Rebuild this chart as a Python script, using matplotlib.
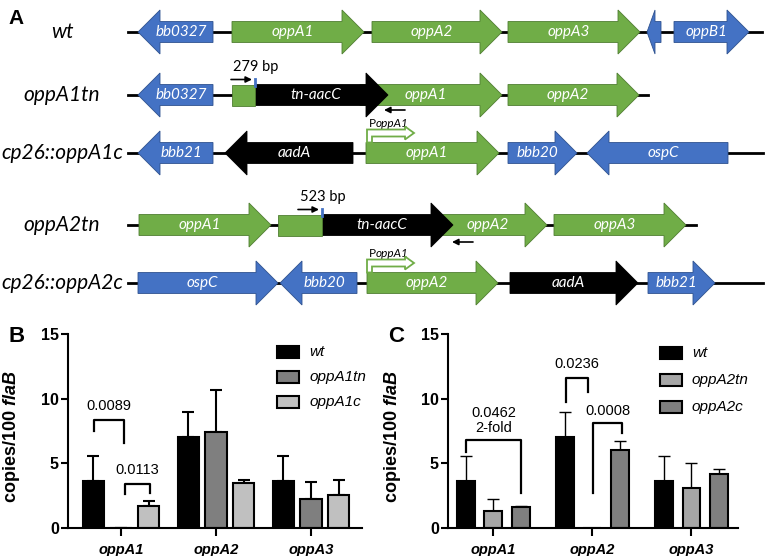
import matplotlib.pyplot as plt
from matplotlib.patches import Polygon, Rectangle

plt.rcParams['font.family'] = 'Liberation Sans'
plt.rcParams['mathtext.fontset'] = 'custom'
plt.rcParams['mathtext.rm'] = 'Liberation Sans'
plt.rcParams['mathtext.bf'] = 'Liberation Sans:bold'
plt.rcParams['mathtext.bfit'] = 'Liberation Sans:italic:bold'

BLUE = '#4472c4'
GREEN = '#70ad47'
fill = {'b': BLUE, 'g': GREEN, 'k': 'black'}
edge = {'b': '#2f528f', 'g': '#507e32', 'k': 'black'}

# ---- panel A: gene maps ----
strains = ['wt', 'oppA1tn', 'cp26::oppA1c', 'oppA2tn', 'cp26::oppA2c']
row_y = [32, 95, 153, 225, 283]
line_end = [762, 648, 763, 696, 763]
# (gene, tail x, tip x, colour)
maps = [
    [('bb0327', 213, 138, 'b'), ('oppA1', 232, 364, 'g'), ('oppA2', 372, 502, 'g'),
     ('oppA3', 508, 640, 'g'), ('', 661, 647, 'b'), ('oppB1', 674, 749, 'b')],
    [('bb0327', 213, 138, 'b'), ('oppA1', 360, 502, 'g'), ('tn-aacC', 255, 388, 'k'),
     ('oppA2', 508, 639, 'g')],
    [('bbb21', 213, 138, 'b'), ('aadA', 353, 225, 'k'), ('oppA1', 366, 499, 'g'),
     ('bbb20', 508, 577, 'b'), ('ospC', 728, 587, 'b')],
    [('oppA1', 139, 271, 'g'), ('oppA2', 440, 547, 'g'), ('tn-aacC', 322, 453, 'k'),
     ('oppA3', 554, 686, 'g')],
    [('ospC', 138, 278, 'b'), ('bbb20', 357, 280, 'b'), ('oppA2', 367, 498, 'g'),
     ('aadA', 510, 638, 'k'), ('bbb21', 648, 715, 'b')],
]
# truncated gene remnants left of the transposon (row, x0, x1)
stubs = [(1, 232, 255), (3, 278, 322)]
inserts = [(1, '279 bp', 255), (3, '523 bp', 322)]
rev_primers = [(1, 405, 110), (3, 473, 242)]
promoters = [2, 4]

# ---- panels B, C: qPCR ----
targets = ['oppA1', 'oppA2', 'oppA3']
b_names = ['wt', 'oppA1tn', 'oppA1c']
b_mean = [[3.65, 7.0, 3.6], [0.0, 7.4, 2.25], [1.7, 3.5, 2.55]]
b_top = [[5.6, 9.0, 5.6], [0.0, 10.7, 3.55], [2.1, 3.7, 3.75]]
b_colors = ['black', '#7f7f7f', '#c0c0c0']
b_pvals = [(-0.285, 0.03, 7.47, 8.37, 6.57, ['0.0089'], 9.46),
           (0.04, 0.30, 2.64, 3.41, 2.69, ['0.0113'], 4.5)]

c_names = ['wt', 'oppA2tn', 'oppA2c']
c_mean = [[3.65, 7.0, 3.6], [1.3, 0.0, 3.1], [1.65, 6.0, 4.2]]
c_top = [[5.6, 9.0, 5.6], [2.25, 0.0, 5.05], [1.72, 6.7, 4.55]]
c_colors = ['black', '#a6a6a6', '#7f7f7f']
c_pvals = [(-0.276, 0.28, 5.9, 6.77, 2.67, ['0.0462', '2-fold'], 8.9),
           (0.733, 0.96, 9.75, 11.63, 10.5, ['0.0236'], 12.7),
           (1.007, 1.30, 2.67, 8.13, 7.36, ['0.0008'], 9.08)]

fig = plt.figure(figsize=(7.68, 5.56), dpi=100)


def bar_panel(rect, names, mean, top, colors, pvals, width, step, lw):
    ax = fig.add_axes(rect)
    x = list(range(len(targets)))
    for k in range(len(names)):
        xs = [i + (k - 1) * step for i in x]
        err = [[0] * len(x), [t - m for t, m in zip(top[k], mean[k])]]
        ax.bar(xs, mean[k], width, color=colors[k], edgecolor='black', linewidth=1.5, zorder=2)
        ax.errorbar(xs, mean[k], yerr=err, fmt='none', ecolor='black', elinewidth=lw,
                    capsize=4.3, capthick=lw, zorder=1)
    for x0, x1, y0, yt, y1, labels, ty in pvals:
        ax.plot([x0, x0, x1, x1], [y0, yt, yt, y1], color='black', lw=1.6, zorder=3)
        for j, s in enumerate(labels):
            ax.text((x0 + x1) / 2, ty - j * 1.2, s, ha='center', va='center', fontsize=10.5)
    ax.set_ylim(0, 15)
    ax.set_yticks([0, 5, 10, 15])
    ax.set_xticks(x)
    ax.set_xticklabels(targets, fontweight='bold', style='italic', fontsize=10.5)
    for t in ax.get_yticklabels():
        t.set_fontweight('bold')
        t.set_fontsize(11.5)
    ax.tick_params(axis='y', length=5, width=1.5, pad=1.5)
    ax.tick_params(axis='x', length=6, width=1.5, pad=5)
    for s in ['top', 'right']:
        ax.spines[s].set_visible(False)
    for s in ['left', 'bottom']:
        ax.spines[s].set_linewidth(1.5)
    ax.set_ylabel(r'copies/100 $\mathbfit{flaB}$', fontweight='bold', fontsize=13)
    ax.yaxis.set_label_coords(-0.155, 0.47)
    return ax


axB = bar_panel([68 / 768, 1 - 528 / 556, 294 / 768, 194 / 556], b_names, b_mean, b_top,
                b_colors, b_pvals, 0.23, 0.29, 1.5)
axB.set_xlim(-0.558, 2.537)
axC = bar_panel([448 / 768, 1 - 528 / 556, 290 / 768, 194 / 556], c_names, c_mean, c_top,
                c_colors, c_pvals, 0.18, 0.277, 1.0)
axC.set_xlim(-0.458, 2.47)

# overlay in pixel coordinates for panel A and the legends
ov = fig.add_axes([0, 0, 1, 1])
ov.set_xlim(0, 768)
ov.set_ylim(556, 0)
ov.axis('off')
ov.set_zorder(10)

HB, HH, HL = 10.5, 22, 22
for r, y in enumerate(row_y):
    ov.plot([128, line_end[r]], [y, y], color='black', lw=2, zorder=1)
    ov.text(62, y, strains[r], ha='center', va='center', fontsize=15,
            style='italic', family='Lato')
    for name, x0, x1, c in maps[r]:
        d = 1 if x1 > x0 else -1
        hl = HL if abs(x1 - x0) > 25 else 8
        xb = x1 - d * hl
        pts = [(x0, y - HB), (xb, y - HB), (xb, y - HH), (x1, y), (xb, y + HH),
               (xb, y + HB), (x0, y + HB)]
        ov.add_patch(Polygon(pts, closed=True, facecolor=fill[c], edgecolor=edge[c],
                             lw=0.6, zorder=2))
        if name:
            tx = ((x0 + x1) / 2 + (x0 + xb) / 2) / 2
            ov.text(tx, y, name, ha='center', va='center', color='white', fontsize=11,
                    style='italic', family='Lato', zorder=3)

for r, x0, x1 in stubs:
    y = row_y[r]
    ov.add_patch(Rectangle((x0, y - HB), x1 - x0, 2 * HB, facecolor=GREEN,
                           edgecolor=edge['g'], lw=0.6, zorder=2))

for r, label, xi in inserts:
    y = row_y[r]
    ov.plot([xi, xi], [y - HB - 6, y - HB + 1], color=BLUE, lw=2, zorder=4)
    ov.annotate('', xy=(xi - 3, y - HB - 5), xytext=(xi - 24, y - HB - 5),
                arrowprops=dict(arrowstyle='-|>', color='black', lw=1.2,
                                mutation_scale=9, shrinkA=0, shrinkB=0))
    ov.text(xi + 1, y - HB - 17, label, ha='center', va='center', fontsize=10.5, family='Lato')

for r, x0, yy in rev_primers:
    ov.annotate('', xy=(x0 - 21, yy), xytext=(x0, yy),
                arrowprops=dict(arrowstyle='-|>', color='black', lw=1.2,
                                mutation_scale=9, shrinkA=0, shrinkB=0))

for r in promoters:
    y = row_y[r]
    xs = 367
    top = y - HB
    pts = [(xs, top), (xs, top - 13), (405, top - 13), (405, top - 16), (414, top - 9.5),
           (405, top - 3), (405, top - 6), (xs + 5, top - 6), (xs + 5, top)]
    ov.add_patch(Polygon(pts, closed=True, facecolor='white', edgecolor=GREEN, lw=1.3,
                         zorder=4))
    ov.text(369, top - 19, 'P', ha='left', va='center', fontsize=8.5, family='Lato')
    ov.text(376, top - 19, 'oppA1', ha='left', va='center', fontsize=8.5, family='Lato',
            style='italic')

# legends
for names, colors, bx, ys in [(b_names, b_colors, 277, [352, 377, 402]),
                              (c_names, c_colors, 660, [353, 380, 407])]:
    for n, col, yy in zip(names, colors, ys):
        ov.add_patch(Rectangle((bx, yy - 6), 22, 12, facecolor=col, edgecolor='black', lw=1.5))
        ov.text(bx + 32, yy, n, ha='left', va='center', fontsize=11, style='italic')

ov.text(16, 19, 'A', ha='center', va='center', fontsize=15, fontweight='bold')
ov.text(17, 337, 'B', ha='center', va='center', fontsize=16, fontweight='bold')
ov.text(396, 337, 'C', ha='center', va='center', fontsize=16, fontweight='bold')

fig.savefig('out.png', dpi=100)
